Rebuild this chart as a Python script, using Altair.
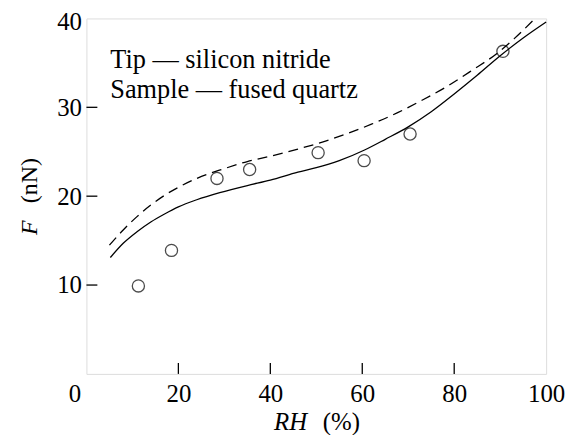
import altair as alt
import pandas as pd

# measured data points (circles)
pt_rh = [11.3, 18.5, 28.4, 35.5, 50.4, 60.4, 70.4, 90.6]
pt_f = [9.9, 13.9, 22.0, 23.0, 24.9, 24.0, 27.0, 36.3]

# solid theoretical curve
sol_rh = [5.2, 8.0, 11.0, 14.0, 17.0, 20.0, 24.0, 29.0, 35.0, 40.0, 46.0, 50.0, 55.0, 60.5, 65.0, 70.0, 75.0, 80.0, 85.0, 90.0, 95.0, 100.0]
sol_f = [13.1, 14.7, 16.0, 17.1, 18.0, 18.8, 19.6, 20.4, 21.2, 21.8, 22.7, 23.2, 24.0, 25.2, 26.4, 27.8, 29.5, 31.5, 33.6, 35.8, 37.8, 39.6]

# dashed theoretical curve
das_rh = [5.0, 8.0, 11.0, 14.0, 17.0, 20.0, 24.0, 30.0, 35.0, 40.0, 46.0, 52.0, 57.0, 62.0, 67.7, 73.0, 78.6, 84.0, 89.4, 93.0, 97.4]
das_f = [14.5, 16.2, 17.7, 19.0, 20.1, 21.0, 22.0, 23.1, 23.9, 24.5, 25.3, 26.2, 27.1, 28.1, 29.4, 30.8, 32.4, 34.2, 36.1, 37.7, 39.9]

x_ticks = [20, 40, 60, 80]
y_ticks = [10, 20, 30]
x_labels = [0, 20, 40, 60, 80, 100]
y_labels = [10, 20, 30, 40]
note_1 = "Tip \u2014 silicon nitride"
note_2 = "Sample \u2014 fused quartz"

W, H = 463, 358
FONT = "Liberation Serif, Times New Roman, serif"

pts = pd.DataFrame({"rh": pt_rh, "f": pt_f})
sol = pd.DataFrame({"rh": sol_rh, "f": sol_f})
das = pd.DataFrame({"rh": das_rh, "f": das_f})

xs = alt.Scale(domain=[0, 100], nice=False, zero=False)
ys = alt.Scale(domain=[0, 40], nice=False, zero=False)

xax = alt.Axis(values=x_labels, ticks=False, domain=False, grid=False,
               labelFont=FONT, labelFontSize=25, labelColor="black", labelPadding=8,
               labelFlush=False, labelAlign="center",
               labelOffset=alt.condition("datum.value == 0", alt.value(-12), alt.value(0)),
               title=None)
yax = alt.Axis(values=y_labels, ticks=False, domain=False, grid=False,
               labelFont=FONT, labelFontSize=25, labelColor="black", labelPadding=5,
               labelFlush=False,
               labelOffset=alt.condition("datum.value == 40", alt.value(3), alt.value(0)),
               title=None)

solid = alt.Chart(sol).mark_line(color="black", strokeWidth=1.3, interpolate="monotone").encode(
    x=alt.X("rh:Q", scale=xs, axis=xax),
    y=alt.Y("f:Q", scale=ys, axis=yax),
)
dashed = alt.Chart(das).mark_line(color="black", strokeWidth=1.3, strokeDash=[10, 6],
                                  interpolate="monotone").encode(
    x=alt.X("rh:Q", scale=xs), y=alt.Y("f:Q", scale=ys)
)
circles = alt.Chart(pts).mark_point(shape="circle", size=150, color="black", filled=False,
                                    strokeWidth=1.3).encode(
    x=alt.X("rh:Q", scale=xs), y=alt.Y("f:Q", scale=ys)
)

xt = alt.Chart(pd.DataFrame({"v": x_ticks})).mark_rule(color="black", strokeWidth=1.3).encode(
    x=alt.X("v:Q", scale=xs), y=alt.value(H), y2=alt.value(H - 11)
)
yt = alt.Chart(pd.DataFrame({"v": y_ticks})).mark_rule(color="black", strokeWidth=1.3).encode(
    y=alt.Y("v:Q", scale=ys), x=alt.value(0), x2=alt.value(11)
)


def label(txt, x, y, italic=False, angle=0, size=24):
    kw = dict(font=FONT, fontSize=size, align="left", baseline="alphabetic", color="black")
    if italic:
        kw["fontStyle"] = "italic"
    if angle:
        kw["angle"] = angle
    return alt.Chart(pd.DataFrame({"t": [txt]})).mark_text(**kw).encode(
        text="t:N", x=alt.value(x), y=alt.value(y)
    )


note_a = label(note_1, 24, 50, size=26.5)
note_b = label(note_2, 24, 80, size=26.5)
xtitle1 = label("RH", 189, 414, italic=True, size=25)
xtitle2 = label("(%)", 238, 414, size=25)
ytitle1 = label("F", -50, 218, italic=True, angle=270)
ytitle2 = label("(nN)", -50, 186, angle=270)

chart = alt.layer(solid, dashed, circles, xt, yt, note_a, note_b,
                  xtitle1, xtitle2, ytitle1, ytitle2).properties(
    width=W, height=H,
    autosize=alt.AutoSizeParams(type="none"),
    padding={"left": 79, "top": 9, "right": 20, "bottom": 60},
).configure_view(stroke="black", strokeWidth=1.4).configure(background="white")

chart.save("out.html", embed_options={"renderer": "svg", "actions": False})
